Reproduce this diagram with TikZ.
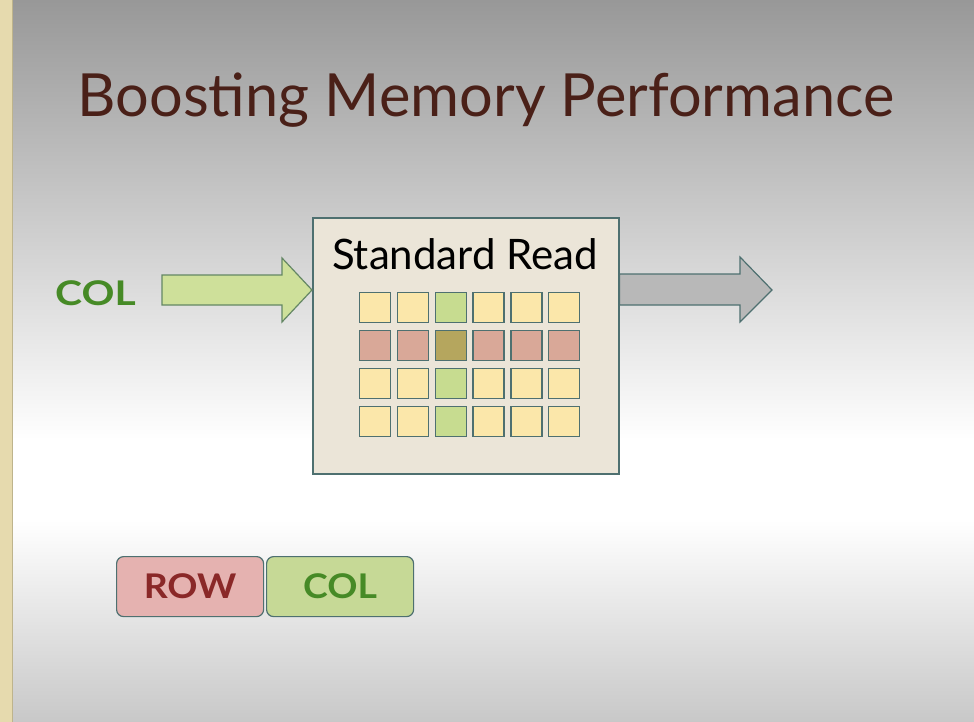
\documentclass[tikz,border=0pt]{standalone}
\usepackage{fontspec}
\setmainfont{Lato}
\definecolor{titlec}{HTML}{4A2018}
\definecolor{boxfill}{HTML}{EBE5D8}
\definecolor{edgec}{HTML}{4E7070}
\definecolor{cy}{HTML}{FBE7AA}
\definecolor{cg}{HTML}{C7DC90}
\definecolor{cr}{HTML}{D9A898}
\definecolor{co}{HTML}{B5A65E}
\definecolor{arrg}{HTML}{CEE09A}
\definecolor{arrgedge}{HTML}{648764}
\definecolor{arrgray}{HTML}{B8B8B8}
\definecolor{colgreen}{HTML}{468A26}
\definecolor{rowred}{HTML}{8A2828}
\definecolor{rowfill}{HTML}{E5B2B0}
\definecolor{colfill}{HTML}{C6D996}
\definecolor{strip}{HTML}{E6DAAE}
\definecolor{stripedge}{HTML}{BEB48C}
\definecolor{bgtop}{HTML}{989898}
\definecolor{bgbot}{HTML}{C8C8C8}
\tikzset{
  cell/.style={draw=edgec, line width=1.3pt, minimum width=31pt, minimum height=30pt, inner sep=0pt, anchor=north west},
  tag/.style={draw=edgec, line width=1.2pt, rounded corners=7pt, minimum width=147pt, minimum height=60pt, inner sep=0pt, font=\fontsize{34}{36}\selectfont\bfseries},
  blockarrow/.style={line width=1.2pt, line join=miter},
}
\begin{document}
\begin{tikzpicture}[x=1pt,y=-1pt]
\useasboundingbox (0,0) rectangle (974,722);
% background
\shade[top color=bgtop, bottom color=white] (0,0) rectangle (974,440);
\fill[white] (0,439) rectangle (974,521);
\shade[top color=white, bottom color=bgbot] (0,520) rectangle (974,722);
\fill[strip] (0,0) rectangle (12,722);
\draw[stripedge, line width=1pt] (12,0) -- (12,722);
% title
\node[text=titlec, font=\fontsize{59.5}{66}\selectfont, anchor=base west] (title) at (74,117) {Boosting Memory Performance};
% main box
\node[draw=edgec, fill=boxfill, line width=1.5pt, minimum width=306pt, minimum height=256pt, anchor=north west, inner sep=0pt] (box) at (312,217) {};
\node[font=\fontsize{42}{46}\selectfont, anchor=base] (std) at (465,269) {Standard Read};
% grid
\foreach \r/\rc in {0/cy,1/cr,2/cy,3/cy}{
  \foreach \c in {0,...,5}{
    \pgfmathsetmacro{\xx}{359+37.8*\c}
    \pgfmathsetmacro{\yy}{292+38*\r}
    \ifnum\c=2
      \ifnum\r=1 \def\fc{co}\else\def\fc{cg}\fi
    \else \def\fc{\rc}\fi
    \node[cell, fill=\fc] (c\r\c) at (\xx,\yy) {};
  }
}
% block arrows
\draw[blockarrow, draw=arrgedge, fill=arrg] (162,275) -- (282,275) -- (282,258) -- (box.west |- 0,290) -- (282,322) -- (282,305) -- (162,305) -- cycle;
\coordinate (outtip) at (772,290);
\draw[blockarrow, draw=edgec, fill=arrgray] (box.east |- 0,274) -- (740,274) -- (740,257) -- (outtip) -- (740,322) -- (740,305) -- (box.east |- 0,305) -- cycle;
\node[text=colgreen, font=\fontsize{34}{36}\selectfont\bfseries, anchor=base west, inner sep=0pt] (collbl) at (55,305) {\scalebox{1.2}[1]{COL}};
% tags
\node[tag, fill=rowfill, text=rowred, anchor=north west] (row) at (116,556) {\scalebox{1.1}[1]{ROW}};
\node[tag, fill=colfill, text=colgreen, anchor=north west] (col) at (266,556) {\scalebox{1.1}[1]{COL}};
\end{tikzpicture}
\end{document}
